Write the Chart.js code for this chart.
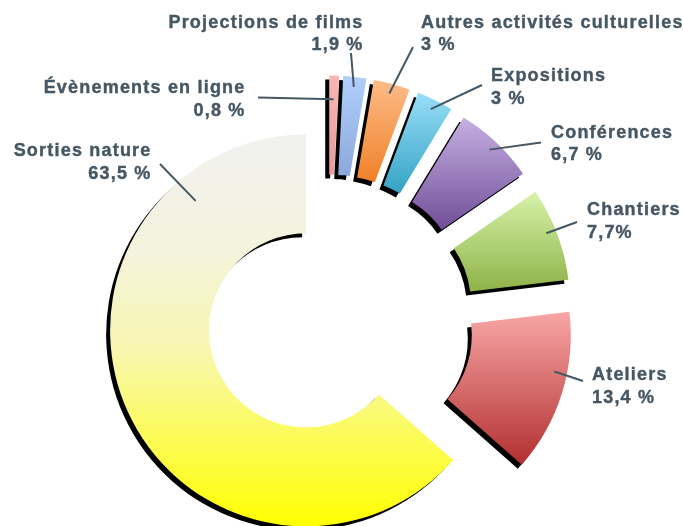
<!DOCTYPE html>
<html>
<head>
<meta charset="utf-8">
<script src="https://cdn.jsdelivr.net/npm/chart.js@4/dist/chart.umd.min.js"></script>
<style>
html,body{margin:0;padding:0;background:#ffffff;}
canvas{display:block;}
</style>
</head>
<body>
<canvas id="c" width="683" height="526" style="width:683px;height:526px"></canvas>
<script>
// ---- data ----
const categories = ['Évènements en ligne', 'Projections de films', 'Autres activités culturelles', 'Expositions', 'Conférences', 'Chantiers', 'Ateliers', 'Sorties nature'];
const values = [0.8, 1.9, 3, 3, 6.7, 7.7, 13.4, 63.5];
const valueLabels = ['0,8 %', '1,9 %', '3 %', '3 %', '6,7 %', '7,7%', '13,4 %', '63,5 %'];

// ---- styles ----
const gradStops = [
  [[0, '#f8b6b6'], [1, '#e89a9a']],
  [[0, '#b0cffb'], [1, '#8ca8dc']],
  [[0, '#fcbc88'], [1, '#f08028']],
  [[0, '#98def8'], [1, '#34a2c3']],
  [[0, '#c6b0e2'], [1, '#704e98']],
  [[0, '#d6f2a8'], [1, '#8eb248']],
  [[0, '#f8a6a6'], [1, '#b23030']],
  [[0, '#f1f1f0'], [0.3, '#f4f3dc'], [0.55, '#f8f7b0'], [1, '#ffff00']]
];
const explode = [49, 49, 49, 49, 49, 49, 49, 24];
const anchorT = [0.5, 0.5, 0.5, 0.5, 0.5, 0.45, 0.38, 0.823];
const anchorR = [0.76, 0.9, 0.9, 0.9, 0.9, 0.9, 0.87, 0.74];
const labelColor = '#465764';
const labelFont = 'bold 18px "Liberation Sans", Arial, sans-serif';
const labelLayout = [
  {align: 'right', tx: 245.5, ty: 93,   lx: 258, ly: 97.5},
  {align: 'right', tx: 363.5, ty: 27.7, lx: 351, ly: 53},
  {align: 'left',  tx: 421, ty: 27.7, lx: 413, ly: 47},
  {align: 'left',  tx: 491, ty: 81,   lx: 482, ly: 85},
  {align: 'left',  tx: 551, ty: 137.6, lx: 541, ly: 142.5},
  {align: 'left',  tx: 587, ty: 215.4, lx: 577, ly: 222},
  {align: 'left',  tx: 592, ty: 380,  lx: 583, ly: 381},
  {align: 'right', tx: 151.5, ty: 156,  lx: 160, ly: 164}
];
const lineGap = 22.5;

function arcYRange(a) {
  const angs = [a.startAngle, a.endAngle];
  for (let k = -4; k <= 4; k++) {
    const t = Math.PI / 2 + k * Math.PI;
    if (t > a.startAngle && t < a.endAngle) angs.push(t);
  }
  let y0 = Infinity, y1 = -Infinity;
  angs.forEach(t => {
    [a.innerRadius, a.outerRadius].forEach(r => {
      const y = a.y + r * Math.sin(t);
      y0 = Math.min(y0, y); y1 = Math.max(y1, y);
    });
  });
  return [y0, y1];
}

const slicePlugin = {
  id: 'slices',
  afterDatasetsUpdate(chart) {
    const meta = chart.getDatasetMeta(0);
    const ctx = chart.ctx;
    meta.data.forEach((arc, i) => {
      const mid = (arc.startAngle + arc.endAngle) / 2;
      arc.x += explode[i] * Math.cos(mid);
      arc.y += explode[i] * Math.sin(mid);
      const yr = arcYRange(arc);
      const g = ctx.createLinearGradient(0, yr[0], 0, yr[1]);
      gradStops[i].forEach(s => g.addColorStop(s[0], s[1]));
      arc.options = Object.assign({}, arc.options, {backgroundColor: g});
    });
  },
  beforeDatasetDraw(chart) {
    const c = chart.ctx;
    c.save();
    c.shadowColor = 'rgba(0,0,0,1)';
    c.shadowOffsetX = -4;
    c.shadowOffsetY = 4;
    c.shadowBlur = 0;
  },
  afterDatasetDraw(chart) {
    chart.ctx.restore();
  },
  afterDatasetsDraw(chart) {
    const ctx = chart.ctx;
    const meta = chart.getDatasetMeta(0);
    ctx.save();
    ctx.strokeStyle = labelColor;
    ctx.fillStyle = labelColor;
    ctx.font = labelFont;
    try { ctx.letterSpacing = '1.2px'; } catch (e) {}
    meta.data.forEach((arc, i) => {
      const L = labelLayout[i];
      const t = arc.startAngle + anchorT[i] * (arc.endAngle - arc.startAngle);
      const r = arc.innerRadius + anchorR[i] * (arc.outerRadius - arc.innerRadius);
      const ax = arc.x + r * Math.cos(t), ay = arc.y + r * Math.sin(t);
      ctx.lineWidth = 2;
      ctx.beginPath();
      ctx.moveTo(L.lx, L.ly);
      ctx.lineTo(ax, ay);
      ctx.stroke();
      ctx.textAlign = L.align;
      ctx.textBaseline = 'alphabetic';
      ctx.lineWidth = 0.4;
      ctx.fillText(categories[i], L.tx, L.ty);
      ctx.strokeText(categories[i], L.tx, L.ty);
      ctx.fillText(valueLabels[i], L.tx, L.ty + lineGap);
      ctx.strokeText(valueLabels[i], L.tx, L.ty + lineGap);
    });
    ctx.restore();
  }
};

new Chart(document.getElementById('c'), {
  type: 'doughnut',
  data: {
    labels: categories,
    datasets: [{
      data: values,
      backgroundColor: '#cccccc',
      borderWidth: 0,
      radius: 196,
      cutout: '49.5%',
      clip: false
    }]
  },
  options: {
    responsive: false,
    animation: false,
    events: [],
    layout: {padding: {left: 0, right: 27, top: 115, bottom: 0}},
    plugins: {legend: {display: false}, tooltip: {enabled: false}}
  },
  plugins: [slicePlugin]
});
</script>
</body>
</html>
